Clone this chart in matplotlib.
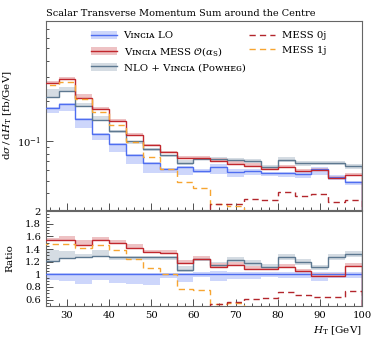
import numpy as np
import matplotlib
matplotlib.use("Agg")
import matplotlib.pyplot as plt
from matplotlib.lines import Line2D
from matplotlib.patches import Patch
from matplotlib.ticker import MultipleLocator, LogLocator, NullFormatter, FixedLocator

plt.rcParams['font.family'] = ['DejaVu Serif', 'DejaVu Sans']
plt.rcParams['mathtext.fontset'] = 'dejavuserif'

# ---------------- data ----------------
edges = np.arange(24, 101, 4)
vincia_lo = [0.1775, 0.188, 0.145, 0.112, 0.0939, 0.078, 0.0682, 0.0608, 0.0630, 0.0591,
             0.0630, 0.0583, 0.0594, 0.0567, 0.0567, 0.0561, 0.0611, 0.0535, 0.0485]
vincia_lo_lo = [0.905, 0.89, 0.853, 0.905, 0.87, 0.85, 0.83, 0.94, 0.88, 0.96,
                0.89, 0.92, 0.93, 0.96, 0.94, 0.94, 0.90, 0.95, 0.95]
vincia_lo_hi = [1.02, 1.02, 1.02, 1.02, 1.02, 1.02, 1.02, 1.02, 1.02, 1.03,
                1.05, 1.04, 1.03, 1.03, 1.03, 1.03, 1.03, 1.03, 1.03]

mess_ratio = [1.535, 1.55, 1.457, 1.55, 1.49, 1.415, 1.35, 1.34, 1.18, 1.25,
              1.12, 1.15, 1.09, 1.08, 1.12, 1.05, 0.98, 0.98, 1.13]
mess_lo = [0.99] * 19
mess_hi = [1.03, 1.04, 1.06, 1.03, 1.04, 1.04, 1.03, 1.03, 1.04, 1.03,
           1.05, 1.04, 1.04, 1.04, 1.04, 1.04, 1.04, 1.04, 1.04]

nlo_ratio = [1.21, 1.26, 1.27, 1.29, 1.27, 1.27, 1.27, 1.28, 1.07, 1.24,
             1.15, 1.22, 1.18, 1.12, 1.27, 1.20, 1.11, 1.27, 1.32]
nlo_lo = [1.0, 1.0, 0.99, 1.0, 0.96, 0.96, 0.96, 0.96, 0.97, 0.98,
          0.96, 0.96, 0.96, 0.96, 0.96, 0.96, 0.96, 0.96, 0.96]
nlo_hi = [1.15, 1.08, 1.04, 1.07, 1.01, 1.01, 1.01, 1.01, 1.06, 1.03,
          1.04, 1.04, 1.04, 1.04, 1.04, 1.04, 1.04, 1.04, 1.04]

mess0j_ratio = [0, 0, 0, 0, 0, 0, 0, 0, 0, 0.49,
                0.53, 0.57, 0.61, 0.63, 0.72, 0.68, 0.65, 0.64, 0.74]
mess1j_ratio = [1.48, 1.48, 1.42, 1.47, 1.39, 1.25, 1.105, 1.0, 0.77, 0.75,
                0.53, 0.55, 0, 0, 0, 0, 0, 0, 0]

xticks = [30, 40, 50, 60, 70, 80, 90, 100]
rticks = [0.6, 0.8, 1.0, 1.2, 1.4, 1.6, 1.8, 2.0]
rticklabels = ['0.6', '0.8', '1', '1.2', '1.4', '1.6', '1.8', '2']

# ---------------- derived ----------------
lo = np.array(vincia_lo)
mess = lo * np.array(mess_ratio)
nlo = lo * np.array(nlo_ratio)
mess0j = lo * np.array(mess0j_ratio)
mess1j = lo * np.array(mess1j_ratio)

c_blue = '#4f6ef0'
c_blue_band = '#cdd6fb'
c_red = '#c1272d'
c_red_band = '#eec2c4'
c_grey = '#5d7890'
c_grey_band = '#d5dce3'
c_dred = '#b3262c'
c_orange = '#f7a531'
frame = '#666666'

W, H = 374, 337
fig = plt.figure(figsize=(W / 100, H / 100), dpi=100)
L, R = 46, 362
ax = fig.add_axes([L / W, 1 - 210 / H, (R - L) / W, (210 - 21) / H])
axr = fig.add_axes([L / W, 1 - 306 / H, (R - L) / W, (306 - 211) / H])

lw = 1.0
dash = (0, (4.5, 3))


def draw(a, vals, lo_f, hi_f, col, bcol, norm):
    v = np.array(vals) / norm
    a.stairs(v * np.array(hi_f), edges, baseline=v * np.array(lo_f), fill=True,
             color=bcol, lw=0, zorder=1)


for a, norm in ((ax, 1.0), (axr, lo)):
    draw(a, lo, vincia_lo_lo, vincia_lo_hi, c_blue, c_blue_band, norm)
    draw(a, nlo, nlo_lo, nlo_hi, c_grey, c_grey_band, norm)
    draw(a, mess, mess_lo, mess_hi, c_red, c_red_band, norm)
    a.stairs(lo / norm, edges, color=c_blue, lw=lw, zorder=3)
    a.stairs(nlo / norm, edges, color=c_grey, lw=lw, zorder=3)
    a.stairs(mess / norm, edges, color=c_red, lw=lw, zorder=3)
    a.stairs(mess1j / norm, edges, color=c_orange, lw=lw, ls=dash, zorder=4)
    a.stairs(mess0j / norm, edges, color=c_dred, lw=lw, ls=dash, zorder=4)

ax.set_yscale('log')
ax.set_ylim(0.03, 0.8)
ax.set_xlim(25, 100)
axr.set_xlim(25, 100)
axr.set_ylim(0.5, 2.0)

for a in (ax, axr):
    for s in a.spines.values():
        s.set_color(frame)
        s.set_linewidth(0.8)
    a.tick_params(which='both', direction='in', colors='#333333', labelcolor='black',
                  top=False, right=False, labelsize=7.2, width=0.6)
    a.tick_params(which='major', length=5)
    a.tick_params(which='minor', length=2.5)
    a.xaxis.set_major_locator(FixedLocator(xticks))
    a.xaxis.set_minor_locator(MultipleLocator(2))

ax.yaxis.set_major_locator(LogLocator(base=10, numticks=5))
ax.yaxis.set_minor_locator(LogLocator(base=10, subs=np.arange(2, 10), numticks=10))
ax.yaxis.set_minor_formatter(NullFormatter())
ax.tick_params(axis='x', labelbottom=False)

axr.yaxis.set_major_locator(FixedLocator(rticks))
axr.set_yticklabels(rticklabels)
axr.yaxis.set_minor_locator(MultipleLocator(0.05))
axr.set_xticklabels([str(t) for t in xticks])

ax.set_ylabel(r'$\mathrm{d}\sigma\,/\,\mathrm{d}H_\mathrm{T}$ [fb/GeV]', fontsize=7.5)
ax.yaxis.set_label_coords(-0.1, 0.5)
axr.set_ylabel('Ratio', fontsize=7.5)
axr.yaxis.set_label_coords(-0.1, 0.5)
axr.set_xlabel(r'$H_\mathrm{T}$ [GeV]', fontsize=7.5, loc='right')
axr.xaxis.set_label_coords(1.0, -0.19)

fig.text(L / W, 1 - 13 / H, 'Scalar Transverse Momentum Sum around the Centre',
         fontsize=7.0, ha='left', va='center')

h1 = [(Patch(facecolor=c_blue_band, lw=0), Line2D([], [], color=c_blue, lw=lw)),
      (Patch(facecolor=c_red_band, lw=0), Line2D([], [], color=c_red, lw=lw)),
      (Patch(facecolor=c_grey_band, lw=0), Line2D([], [], color=c_grey, lw=lw))]
l1 = ['Vɪɴᴄɪᴀ LO', r'Vɪɴᴄɪᴀ MESS $\mathcal{O}(\alpha_\mathrm{S})$', 'NLO + Vɪɴᴄɪᴀ (Pᴏᴡʜᴇɢ)']
leg1 = ax.legend(h1, l1, loc='upper left', bbox_to_anchor=(0.13, 0.97), frameon=False,
                 fontsize=7.3, handlelength=2.6, handleheight=0.9, handletextpad=0.6,
                 labelspacing=0.45, borderaxespad=0)
ax.add_artist(leg1)
h2 = [Line2D([], [], color=c_dred, lw=lw, ls=dash),
      Line2D([], [], color=c_orange, lw=lw, ls=dash)]
l2 = ['MESS 0j', 'MESS 1j']
ax.legend(h2, l2, loc='upper left', bbox_to_anchor=(0.63, 0.97), frameon=False,
          fontsize=7.3, handlelength=2.6, handleheight=0.9, handletextpad=0.6,
          labelspacing=0.45, borderaxespad=0)

fig.savefig('out.png', dpi=100)
